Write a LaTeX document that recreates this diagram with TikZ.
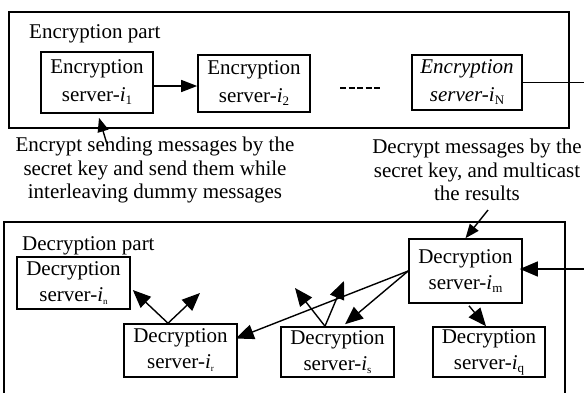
\documentclass[tikz,border=0pt]{standalone}
\usepackage{fontspec}
\setmainfont{Liberation Serif}
\usetikzlibrary{arrows.meta,calc}
\newcommand{\lowsub}[2]{\raisebox{-3pt}{\fontsize{#1}{#1}\selectfont #2}}
\begin{document}
\begin{tikzpicture}[x=1pt,y=-1pt,
  frame/.style={draw=black,line width=1.6pt,inner sep=0pt},
  srv/.style={draw=black,line width=1.6pt,align=center,inner sep=0pt,font=\fontsize{21}{28}\selectfont},
  dsrv/.style={srv,font=\fontsize{21}{26}\selectfont},
  conn/.style={line width=1.4pt,-{Triangle[length=18pt,width=15pt]}},
  smallconn/.style={line width=1.4pt,-{Triangle[length=14pt,width=11pt]}},
  plain/.style={line width=1.4pt},
  note/.style={align=center,inner sep=0pt,font=\fontsize{21}{23.5}\selectfont},
  lbl/.style={anchor=base west,inner sep=0pt,font=\fontsize{21}{24}\selectfont}]

\useasboundingbox (0,0) rectangle (584,392);
\fill[white] (0,0) rectangle (584,392);

% frames
\node[frame, minimum width=560pt, minimum height=116pt] (encpart) at (289,70) {};
\node[frame, minimum width=561pt, minimum height=190pt] (decpart) at (284.5,317) {};
\node[lbl] (enclbl) at (29,38) {Encryption part};
\node[lbl] (declbl) at (22,250) {Decryption part};

% encryption servers
\node[srv, minimum width=112pt, minimum height=61pt] (e1) at (97,82.5) {Encryption\\server-\textit{i}\lowsub{13}{1}};
\node[srv, minimum width=112pt, minimum height=57pt] (e2) at (254,83.5) {Encryption\\server-\textit{i}\lowsub{13}{2}};
\node[srv, minimum width=110pt, minimum height=55pt] (eN) at (467,82.5) {\textit{Encryption}\\\textit{server-i}\lowsub{13}{N}};

\coordinate (dashL) at (340,88);
\coordinate (dashR) at (382,88);
\draw[line width=2pt, dash pattern=on 6pt off 2.5pt] (dashL) -- (dashR);

% decryption servers
\node[dsrv, minimum width=113pt, minimum height=52pt] (dn) at (73.5,283) {Decryption\\server-\textit{i}\lowsub{9}{n}};
\node[dsrv, minimum width=113pt, minimum height=53pt] (dr) at (180.5,350.5) {Decryption\\server-\textit{i}\lowsub{9}{r}};
\node[dsrv, minimum width=113pt, minimum height=50pt] (ds) at (337.5,352) {Decryption\\server-\textit{i}\lowsub{11}{s}};
\node[dsrv, minimum width=113pt, minimum height=64pt] (dm) at (465.5,271) {Decryption\\server-\textit{i}\lowsub{13}{m}};
\node[dsrv, minimum width=112pt, minimum height=50pt] (dq) at (489,352) {Decryption\\server-\textit{i}\lowsub{13}{q}};

% notes
\node[note] (note1) at (155,170) {Encrypt sending messages by the\\secret key and send them while\\interleaving dummy messages};
\node[note] (note2) at (477,170) {Decrypt messages by the\\secret key, and multicast\\the results};

% connectors
\draw[conn,-{Triangle[length=16pt,width=12pt]}] (e1.east |- 0,86) -- (e2.west |- 0,86);
\coordinate (edgeA) at (590,82.5);
\draw[plain] (eN.east) -- (edgeA);
\coordinate (edgeB) at (590,269);
\draw[conn] (edgeB) -- ($(dm.east)+(-3,-2)$);

\coordinate (n1tail) at (107,144);
\draw[smallconn] (n1tail) -- ($(e1.south)+(2,4)$);
\coordinate (n2tail) at (488,210);
\draw[smallconn] (n2tail) -- (dm.north);

\coordinate (drtop) at ($(dr.north)+(-12.5,0)$);
\draw[conn] (drtop) -- ($(dn.east)+(2,7)$);
\coordinate (drfree) at (200,293);
\draw[conn] (drtop) -- (drfree);

\coordinate (dstop) at ($(ds.north)+(-12.5,0)$);
\coordinate (dsfreeA) at (295,288);
\coordinate (dsfreeB) at (344,281);
\draw[conn] (dstop) -- (dsfreeA);
\draw[conn] (dstop) -- (dsfreeB);

\draw[conn] (dm.west) -- ($(dr.east)+(-2,-12)$);
\draw[conn] (dm.west) -- ($(ds.north)+(7.5,-2)$);
\draw[conn] ($(dm.south)+(3.5,2)$) -- ($(dq.north)+(-3,0)$);
\end{tikzpicture}
\end{document}
